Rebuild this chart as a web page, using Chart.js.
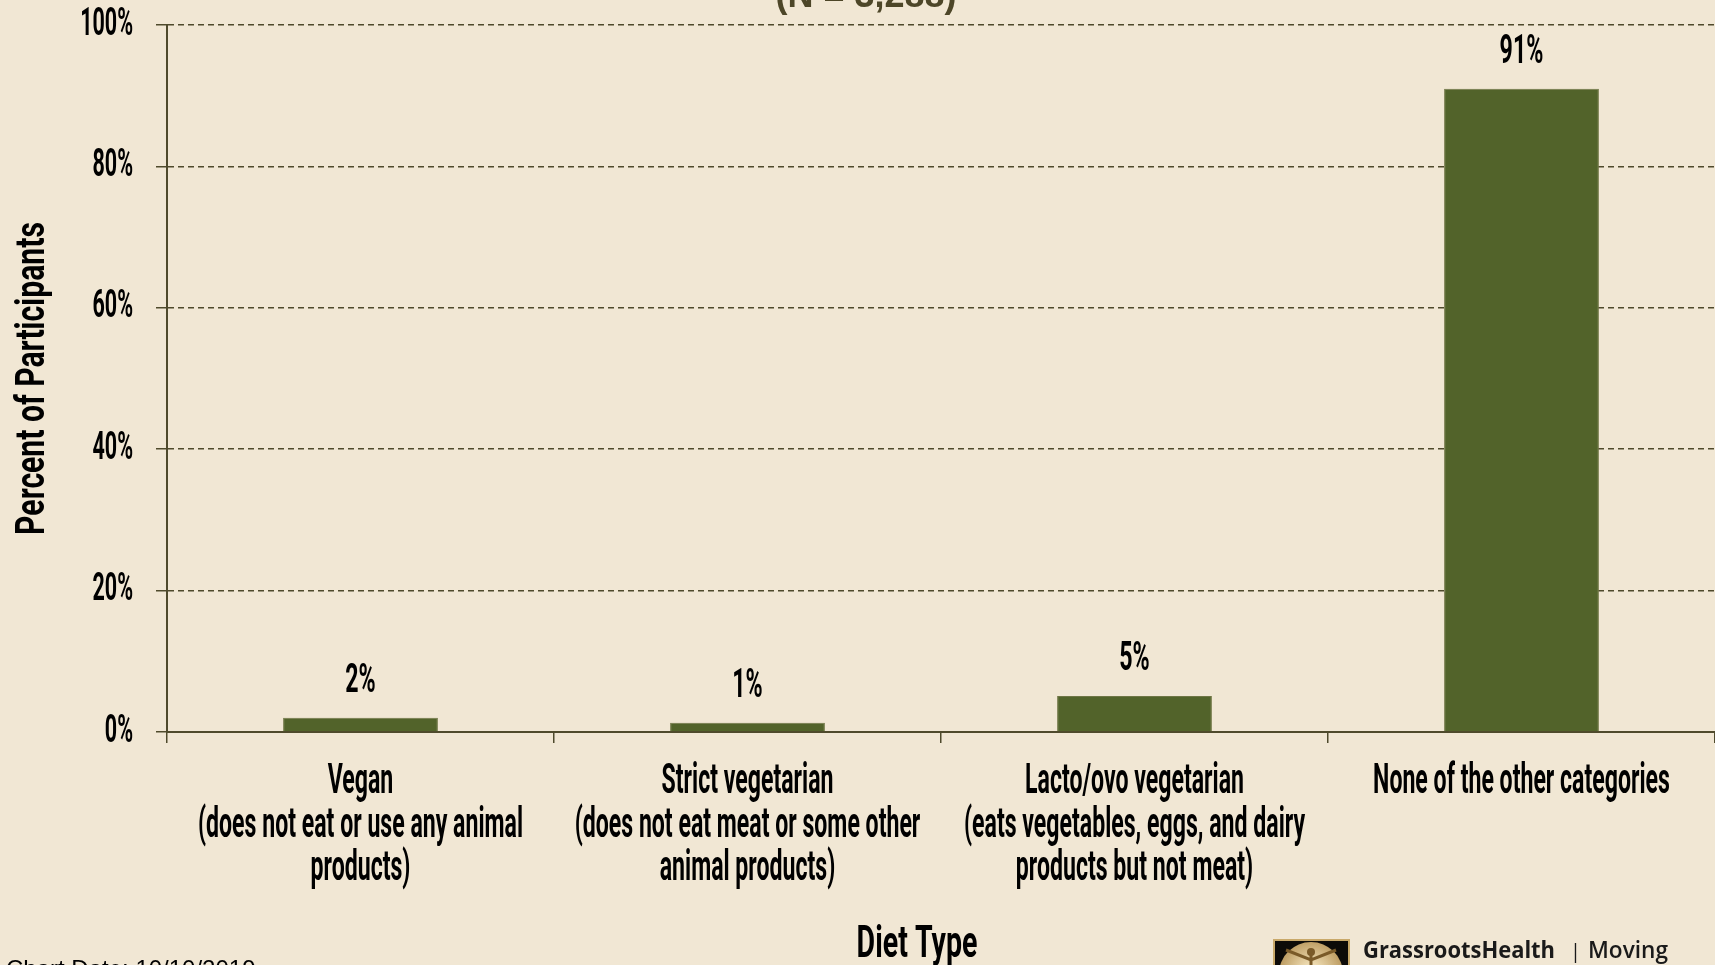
<!DOCTYPE html>
<html>
<head>
<meta charset="utf-8">
<script src="https://cdn.jsdelivr.net/npm/chart.js@4.4.0/dist/chart.umd.min.js"></script>
<style>
html,body{margin:0;padding:0;background:#f1e7d4;}
#wrap{width:1715px;height:965px;position:relative;overflow:hidden;}
</style>
</head>
<body>
<div id="wrap"><canvas id="c" width="1715" height="965"></canvas></div>
<script>
// ---- data ----
const categories = [
  ["Vegan", "(does not eat or use any animal", "products)"],
  ["Strict vegetarian", "(does not eat meat or some other", "animal products)"],
  ["Lacto/ovo vegetarian", "(eats vegetables, eggs, and dairy", "products but not meat)"],
  ["None of the other categories"]
];
const values = [2.0, 1.3, 5.1, 91.0];
const valueLabels = ["2%", "1%", "5%", "91%"];
const yTickValues = [0, 20, 40, 60, 80, 100];
const titleText = "(N = 3,288)";
const xTitle = "Diet Type";
const yTitle = "Percent of Participants";
const footerText = "Chart Date: 10/10/2019";

// ---- styling ----
const FAM = "Roboto, 'Liberation Sans', 'DejaVu Sans', sans-serif";
const AXIS = '#4f4a2c';
const BG = '#f1e7d4';
// horizontal condensing per font size (imitates a compressed gothic face)
const CONDENSE = { 38: 0.565, 40: 0.58, 42: 0.55, 41: 0.735, 45: 0.635 };

(function () {
  const P = CanvasRenderingContext2D.prototype;
  const origFill = P.fillText, origMeasure = P.measureText;
  function factor(ctx) {
    const m = /(\d+(?:\.\d+)?)px/.exec(ctx.font);
    if (!m) return 1;
    return CONDENSE[Math.round(parseFloat(m[1]))] || 1;
  }
  P.fillText = function (t, x, y, mw) {
    const f = factor(this);
    if (f !== 1) {
      const w = origMeasure.call(this, String(t)).width * f;
      mw = (mw === undefined || mw === null) ? w : Math.min(mw, w);
    }
    if (mw === undefined || mw === null) return origFill.call(this, t, x, y);
    return origFill.call(this, t, x, y, mw);
  };
  P.measureText = function (t) {
    const m = origMeasure.call(this, t);
    const f = factor(this);
    if (f === 1) return m;
    return {
      width: m.width * f,
      actualBoundingBoxLeft: m.actualBoundingBoxLeft * f,
      actualBoundingBoxRight: m.actualBoundingBoxRight * f,
      actualBoundingBoxAscent: m.actualBoundingBoxAscent,
      actualBoundingBoxDescent: m.actualBoundingBoxDescent,
      fontBoundingBoxAscent: m.fontBoundingBoxAscent,
      fontBoundingBoxDescent: m.fontBoundingBoxDescent
    };
  };
})();

const extras = {
  id: 'extras',
  beforeDraw(chart) {
    const ctx = chart.ctx;
    ctx.save();
    ctx.fillStyle = BG;
    ctx.fillRect(0, 0, chart.width, chart.height);
    ctx.restore();
  },
  afterDatasetsDraw(chart) {
    const ctx = chart.ctx;
    const meta = chart.getDatasetMeta(0);
    ctx.save();
    ctx.font = "bold 40px " + FAM;
    ctx.fillStyle = '#000';
    ctx.textAlign = 'center';
    ctx.textBaseline = 'middle';
    meta.data.forEach((bar, i) => {
      ctx.fillText(valueLabels[i], bar.x, bar.y - 36);
    });
    ctx.restore();
  },
  afterDraw(chart) {
    const ctx = chart.ctx;
    ctx.save();
    // clipped top title
    ctx.font = "bold 36px 'Liberation Sans', Arial, sans-serif";
    ctx.fillStyle = '#4d4628';
    ctx.textAlign = 'center';
    ctx.textBaseline = 'alphabetic';
    ctx.fillText(titleText, 866, 7);
    // chart date (clipped at bottom)
    ctx.font = "24px 'Liberation Sans', Arial, sans-serif";
    ctx.fillStyle = '#000';
    ctx.textAlign = 'left';
    ctx.fillText(footerText, 6, 977);
    // logo box
    const bx = 1273, by = 939, bw = 77, bh = 40;
    ctx.fillStyle = '#0d0b08';
    ctx.fillRect(bx, by, bw, bh);
    ctx.strokeStyle = '#c9a96a';
    ctx.lineWidth = 2;
    ctx.strokeRect(bx + 1, by + 1, bw - 2, bh);
    ctx.beginPath();
    ctx.rect(bx + 3, by + 3, bw - 6, bh);
    ctx.clip();
    const g = ctx.createRadialGradient(1311, 972, 4, 1311, 972, 34);
    g.addColorStop(0, '#f6e6bf');
    g.addColorStop(1, '#b8965a');
    ctx.fillStyle = g;
    ctx.beginPath();
    ctx.arc(1311, 974, 32, 0, Math.PI * 2);
    ctx.fill();
    ctx.strokeStyle = '#7a5a28';
    ctx.lineWidth = 3;
    ctx.beginPath();
    ctx.moveTo(1286, 950); ctx.lineTo(1311, 960); ctx.lineTo(1336, 950);
    ctx.moveTo(1311, 955); ctx.lineTo(1311, 975);
    ctx.stroke();
    ctx.fillStyle = '#7a5a28';
    ctx.beginPath();
    ctx.arc(1311, 952, 4, 0, Math.PI * 2);
    ctx.fill();
    ctx.restore();
    ctx.save();
    ctx.font = "bold 24px 'Open Sans', 'Liberation Sans', sans-serif";
    ctx.fillStyle = '#1a1a1a';
    ctx.textAlign = 'left';
    ctx.textBaseline = 'alphabetic';
    ctx.fillText("GrassrootsHealth", 1363, 958, 192);
    ctx.font = "20px 'Open Sans', 'Liberation Sans', sans-serif";
    ctx.fillText("|", 1570, 958);
    ctx.font = "600 24px 'Open Sans', 'Liberation Sans', sans-serif";
    ctx.fillText("Moving", 1588, 958, 80);
    ctx.restore();
  }
};

new Chart(document.getElementById('c'), {
  type: 'bar',
  data: {
    labels: categories,
    datasets: [{
      data: values,
      backgroundColor: '#52632a',
      borderColor: '#6f7645',
      borderWidth: 1,
      barPercentage: 0.8,
      categoryPercentage: 0.5
    }]
  },
  options: {
    responsive: false,
    animation: false,
    devicePixelRatio: 1,
    layout: { padding: { top: 25, right: 0, bottom: 0, left: 0 } },
    plugins: {
      legend: { display: false },
      tooltip: { enabled: false },
      title: { display: false }
    },
    scales: {
      x: {
        offset: true,
        afterFit(scale) {
          scale.height = 233;
          scale.paddingLeft = 0; scale.paddingRight = 0;
          if (!scale._titleShifted) {
            const orig = scale.drawTitle;
            // the original centres the axis title slightly left of the plot centre
            scale.drawTitle = function () {
              const r = this.right;
              this.right = r - 48;
              orig.call(this);
              this.right = r;
            };
            scale._titleShifted = true;
          }
        },
        grid: {
          offset: true,
          drawOnChartArea: false,
          drawTicks: true,
          tickLength: 11,
          color: AXIS,
          lineWidth: 1.5
        },
        border: { display: true, color: AXIS, width: 2 },
        ticks: {
          color: '#000',
          padding: 18,
          maxRotation: 0,
          autoSkip: false,
          font: { family: FAM, size: 42, weight: 'bold', lineHeight: 1.036 }
        },
        title: {
          display: true,
          text: xTitle,
          color: '#000',
          font: { family: FAM, size: 45, weight: 'bold' },
          padding: { top: 0, bottom: -8 }
        }
      },
      y: {
        min: 0,
        max: 100,
        afterFit(scale) {
          scale.width = 167;
          scale.paddingTop = 0; scale.paddingBottom = 0;
        },
        afterBuildTicks(scale) { scale.ticks = yTickValues.map(v => ({ value: v })); },
        grid: {
          color: AXIS,
          lineWidth: 1.5,
          tickLength: 11,
          tickBorderDash: [],
          drawTicks: true
        },
        border: { display: true, color: AXIS, width: 2, dash: [6, 4] },
        ticks: {
          color: '#000',
          padding: 23,
          callback: v => v + '%',
          font: { family: FAM, size: 38, weight: 'bold' }
        },
        title: {
          display: true,
          text: yTitle,
          color: '#000',
          font: { family: FAM, size: 41, weight: 'bold' },
          padding: { top: 9, bottom: 0 }
        }
      }
    }
  },
  plugins: [extras]
});
</script>
</body>
</html>
